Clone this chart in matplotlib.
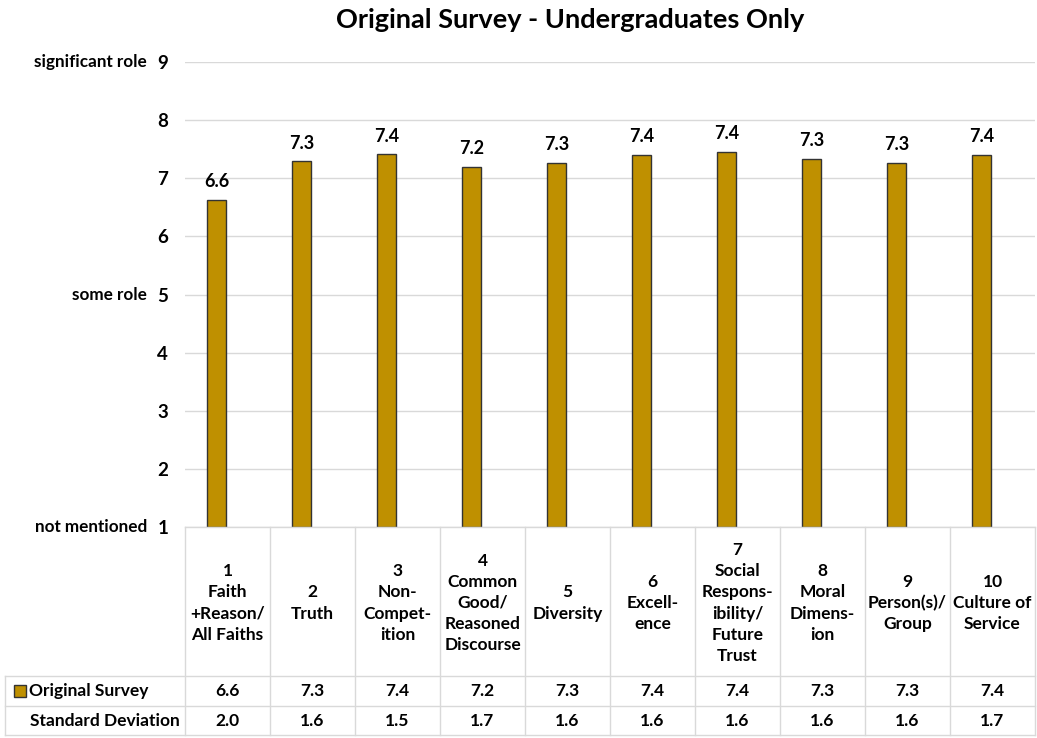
import matplotlib.pyplot as plt
from matplotlib.lines import Line2D
from matplotlib.patches import Rectangle
from matplotlib.transforms import blended_transform_factory


categories = [
    "1\nFaith\n+Reason/\nAll Faiths",
    "2\nTruth",
    "3\nNon-\nCompet-\nition",
    "4\nCommon\nGood/\nReasoned\nDiscourse",
    "5\nDiversity",
    "6\nExcell-\nence",
    "7\nSocial\nRespons-\nibility/\nFuture\nTrust",
    "8\nMoral\nDimens-\nion",
    "9\nPerson(s)/\nGroup",
    "10\nCulture of\nService",
]
survey_means = [6.63, 7.29, 7.41, 7.20, 7.26, 7.40, 7.45, 7.33, 7.26, 7.40]
survey_labels = ["6.6", "7.3", "7.4", "7.2", "7.3", "7.4", "7.4", "7.3", "7.3", "7.4"]
std_labels = ["2.0", "1.6", "1.5", "1.7", "1.6", "1.6", "1.6", "1.6", "1.6", "1.7"]
y_ticks = [1, 2, 3, 4, 5, 6, 7, 8, 9]
y_roles = {9: "significant role", 5: "some role", 1: "not mentioned"}

GOLD = "#BF9000"
GRID = "#D9D9D9"
FONT = ["Lato", "DejaVu Sans"]

plt.rcParams["font.family"] = FONT
plt.rcParams["font.weight"] = "bold"

W, H = 1037, 738
fig = plt.figure(figsize=(W / 100, H / 100), dpi=100)

# plot area in pixels: x 185..1035, y 62..527
x0, x1, ytop, ybot = 185, 1035, 62, 527
ax = fig.add_axes([x0 / W, 1 - ybot / H, (x1 - x0) / W, (ybot - ytop) / H])

n = len(categories)
centers = [i + 0.5 for i in range(n)]
offset = -0.13
bar_x = [c + offset for c in centers]
ax.bar(bar_x, [v - 1 for v in survey_means], bottom=1, width=0.23,
       color=GOLD, edgecolor="#333333", linewidth=1.0, zorder=3)
for x, v, lab in zip(bar_x, survey_means, survey_labels):
    ax.text(x, v + 0.17, lab, ha="center", va="bottom", fontsize=13, fontweight="bold")

ax.set_xlim(0, n)
ax.set_ylim(1, 9)
ax.set_yticks(y_ticks)
ax.set_yticklabels([str(t) for t in y_ticks], fontsize=13.5, fontweight="bold")
ax.tick_params(axis="y", length=0, pad=12)
ax.set_xticks([])
for s in ax.spines.values():
    s.set_visible(False)
ax.yaxis.grid(True, color=GRID, linewidth=1.0, zorder=0)

trans_y = blended_transform_factory(fig.transFigure, ax.transData)
for val, txt in y_roles.items():
    ax.text(147 / W, val, txt, transform=trans_y, ha="right", va="center",
            fontsize=12.3, fontweight="bold")

fig.text(570 / W, 1 - 20 / H, "Original Survey - Undergraduates Only", fontsize=19.5,
         fontweight="bold", ha="center", va="center")

# data table under the axis
tr = blended_transform_factory(ax.transData, fig.transFigure)
px = lambda p: (p - x0) / ((x1 - x0) / n)
r_top, r_head, r_mid, r_bot = [1 - p / H for p in (527, 676, 706, 735)]
left = px(5)

def line(xs, ys):
    fig.add_artist(Line2D(xs, ys, transform=tr, color=GRID, linewidth=1.0))

line([0, n], [r_top, r_top])
for r in (r_head, r_mid, r_bot):
    line([left, n], [r, r])
for i in range(n + 1):
    line([i, i], [r_top, r_bot])
line([left, left], [r_head, r_bot])

for c, cat in zip(centers, categories):
    fig.text(c, (r_top + r_head) / 2 - 0.002, cat, transform=tr, ha="center", va="center",
             fontsize=12.5, fontweight="bold", linespacing=1.4)
for c, a, b in zip(centers, survey_labels, std_labels):
    fig.text(c, (r_head + r_mid) / 2, a, transform=tr, ha="center", va="center",
             fontsize=12.5, fontweight="bold")
    fig.text(c, (r_mid + r_bot) / 2, b, transform=tr, ha="center", va="center",
             fontsize=12.5, fontweight="bold")

fig.add_artist(Rectangle((14 / W, 1 - 697 / H), 12 / W, 12 / H, transform=fig.transFigure,
                         facecolor=GOLD, edgecolor="#333333", linewidth=1.0))
fig.text(29 / W, (r_head + r_mid) / 2, "Original Survey", ha="left", va="center",
         fontsize=12.5, fontweight="bold")
fig.text(30 / W, (r_mid + r_bot) / 2, "Standard Deviation", ha="left", va="center",
         fontsize=12.5, fontweight="bold")

fig.savefig("out.png", dpi=100)
